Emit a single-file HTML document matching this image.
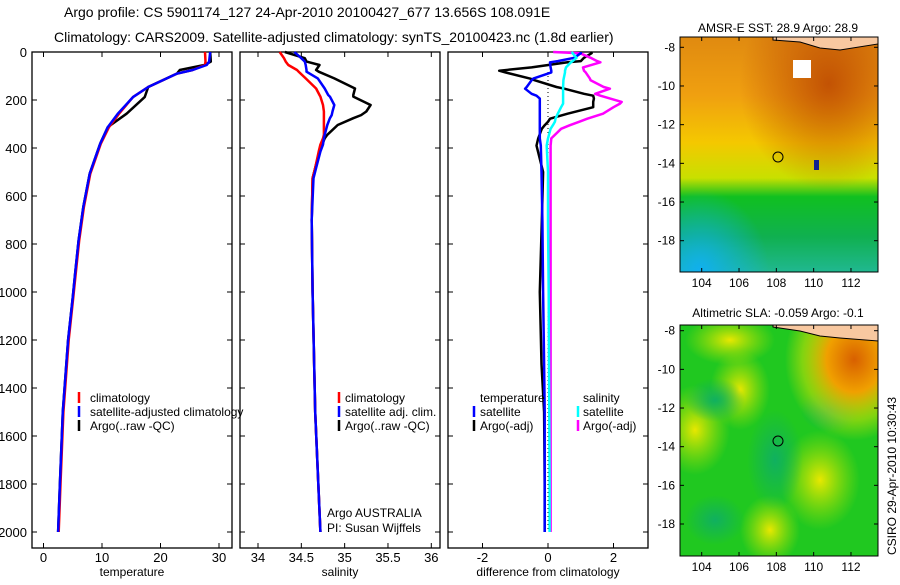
<!DOCTYPE html>
<html><head><meta charset="utf-8"><style>
body{margin:0;background:#fff;}
svg text{font-family:"Liberation Sans",sans-serif;font-size:12px;fill:#000;}
svg text.big{font-size:14px;}
svg text.ax{font-size:13px;}
</style></head><body>
<svg id="fig" width="900" height="580" xmlns="http://www.w3.org/2000/svg">
<defs>
<linearGradient id="sstv" x1="0" y1="0" x2="0" y2="1">
<stop offset="0" stop-color="#e08a10"/><stop offset="0.25" stop-color="#f0a010"/><stop offset="0.45" stop-color="#f4c800"/><stop offset="0.6" stop-color="#c8e000"/><stop offset="0.68" stop-color="#10c020"/><stop offset="0.85" stop-color="#10b050"/><stop offset="1" stop-color="#20b890"/>
</linearGradient>
<radialGradient id="sstbrown" cx="0.75" cy="0.2" r="0.45"><stop offset="0" stop-color="#b84000" stop-opacity="0.8"/><stop offset="1" stop-color="#b84000" stop-opacity="0"/></radialGradient>
<radialGradient id="sstcyan" cx="0.1" cy="1" r="0.35"><stop offset="0" stop-color="#10b0f0"/><stop offset="1" stop-color="#10b0f0" stop-opacity="0"/></radialGradient>
<radialGradient id="slaor" cx="0.88" cy="0.15" r="0.35"><stop offset="0" stop-color="#d86000"/><stop offset="0.4" stop-color="#f0a000" /><stop offset="0.75" stop-color="#e0e000" stop-opacity="0.5"/><stop offset="1" stop-color="#e0e000" stop-opacity="0"/></radialGradient>
<radialGradient id="slay" cx="0.5" cy="0.5" r="0.5"><stop offset="0" stop-color="#e8e800"/><stop offset="1" stop-color="#b0e000" stop-opacity="0"/></radialGradient>
<radialGradient id="slag" cx="0.5" cy="0.5" r="0.5"><stop offset="0" stop-color="#10b060"/><stop offset="1" stop-color="#10b060" stop-opacity="0"/></radialGradient>
<clipPath id="clip2"><rect x="680" y="325" width="198" height="231"/></clipPath>
</defs>
<text class="big" x="64" y="17">Argo profile: CS 5901174_127 24-Apr-2010 20100427_677 13.656S 108.091E</text>
<text class="big" x="54" y="42">Climatology: CARS2009. Satellite-adjusted climatology: synTS_20100423.nc (1.8d earlier)</text>
<g id="plots"></g>
<g>
<text x="778" y="32" text-anchor="middle">AMSR-E SST: 28.9 Argo: 28.9</text>
<rect x="680" y="37" width="198" height="235" fill="url(#sstv)"/>
<rect x="680" y="37" width="198" height="235" fill="url(#sstbrown)"/>
<rect x="680" y="37" width="198" height="235" fill="url(#sstcyan)"/>
<rect x="793" y="60" width="18" height="18" fill="#fff"/>
<rect x="814" y="160" width="5" height="10" fill="#102090"/>
<path d="M773,40 L800,42 L820,48 L840,50 L878,44 L878,37 L773,37Z" fill="#f8c8a0" stroke="#000" stroke-width="1"/>
<circle cx="778" cy="157" r="5" fill="none" stroke="#000"/>
<rect x="680" y="37" width="198" height="235" fill="none" stroke="#000"/>
</g>
<g>
<text x="778" y="317" text-anchor="middle">Altimetric SLA: -0.059 Argo: -0.1</text>
<g clip-path="url(#clip2)">
<rect x="680" y="325" width="198" height="231" fill="#20c820"/>
<ellipse cx="695" cy="430" rx="35" ry="45" fill="url(#slay)"/>
<ellipse cx="820" cy="480" rx="40" ry="50" fill="url(#slay)"/>
<ellipse cx="770" cy="530" rx="30" ry="35" fill="url(#slay)"/>
<ellipse cx="730" cy="340" rx="45" ry="25" fill="url(#slay)"/>
<ellipse cx="740" cy="390" rx="30" ry="40" fill="url(#slay)"/>
<ellipse cx="775" cy="460" rx="28" ry="50" fill="url(#slag)"/>
<ellipse cx="830" cy="410" rx="30" ry="22" fill="url(#slag)"/>
<ellipse cx="715" cy="400" rx="30" ry="22" fill="url(#slag)"/>
<ellipse cx="715" cy="520" rx="30" ry="25" fill="url(#slag)"/>
<rect x="680" y="325" width="198" height="231" fill="url(#slaor)"/>
</g>
<path d="M773,327 L800,331 L820,336 L840,338 L878,341 L878,325 L773,325Z" fill="#f8c8a0" stroke="#000" stroke-width="1"/>
<circle cx="778" cy="441" r="5" fill="none" stroke="#000"/>
<rect x="680" y="325" width="198" height="231" fill="none" stroke="#000"/>
</g>
<text transform="translate(896,555) rotate(-90)">CSIRO 29-Apr-2010 10:30:43</text>
<g id="maps"></g>
</svg>
<script>
// ---- data ----
const depthT=[0,40,54,75,90,146,188,257,313,382,507,646,785,924,1021,1200,1500,1800,2000];
const tempClim=[27.6,27.7,27.6,25.5,22.8,17.9,15.3,12.9,11.2,9.8,8.0,6.9,6.1,5.5,5.1,4.3,3.4,2.9,2.6];
const tempSat=[28.5,28.3,27.9,25.5,22.8,17.9,15.3,12.7,11.0,9.7,7.9,6.8,6.0,5.4,5.0,4.2,3.3,2.8,2.5];
const tempArgo=[28.5,28.6,27.5,23.3,22.8,17.9,17.3,14.2,11.0,9.7,7.9,6.8,6.0,5.4,5.0,4.2,3.3,2.8,2.5];
const depthS=[0,26,40,54,75,82,110,152,179,186,221,248,263,276,304,345,360,386,415,483,526,700,1000,1500,2000];
const salClim=[34.25,34.3,34.32,34.35,34.45,34.47,34.55,34.67,34.71,34.72,34.75,34.76,34.76,34.76,34.76,34.76,34.75,34.72,34.7,34.66,34.63,34.62,34.63,34.66,34.72];
const salSat=[34.42,34.5,34.54,34.55,34.56,34.56,34.69,34.77,34.81,34.83,34.88,34.86,34.85,34.83,34.8,34.77,34.76,34.75,34.72,34.67,34.64,34.62,34.63,34.66,34.72];
const salArgo=[34.31,34.54,34.56,34.71,34.67,34.7,34.88,35.12,35.1,35.1,35.3,35.25,35.19,35.1,34.92,34.8,34.77,34.74,34.71,34.66,34.63,34.62,34.63,34.66,34.72];
const depthD=[0,5,24,38,43,64,78,85,111,118,146,153,174,182,194,208,215,230,257,278,291,305,320,360,390,500,708,1000,1300,1500,1800,2000];
const dTsat=[1.0,1.0,0.8,0.3,0.06,0.08,0.1,0.1,-0.45,-0.5,-0.65,-0.7,-0.5,-0.35,-0.25,-0.25,-0.25,-0.25,-0.25,-0.25,-0.25,-0.25,-0.25,-0.25,-0.22,-0.2,-0.17,-0.15,-0.12,-0.1,-0.1,-0.1];
const dTargo=[1.3,1.33,1.1,1.0,0.6,-0.5,-1.49,-1.3,-0.55,-0.4,0.26,0.5,1.1,1.38,1.4,1.38,1.38,1.38,0.6,0.06,0.0,-0.1,-0.19,-0.3,-0.35,-0.15,-0.19,-0.25,-0.2,-0.12,-0.1,-0.1];
const dSsat=[0.72,0.75,0.87,0.75,0.7,0.55,0.52,0.52,0.48,0.47,0.46,0.46,0.46,0.46,0.46,0.46,0.46,0.4,0.3,0.23,0.21,0.15,0.08,0.0,-0.04,0.0,0.0,0.02,0.03,0.04,0.05,0.05];
const dSargo=[0.16,0.98,1.3,1.5,1.6,1.07,1.1,1.15,1.28,1.3,1.7,1.89,1.44,1.6,1.9,2.25,2.2,2.0,1.68,1.2,0.95,0.67,0.4,0.1,0.08,0.08,0.08,0.08,0.08,0.08,0.08,0.08];
const depthTicks=[0,200,400,600,800,1000,1200,1400,1600,1800,2000];
const tempTicks=[0,10,20,30];
const salTicks=[34,34.5,35,35.5,36];
const diffTicks=[-2,0,2];

const NS='http://www.w3.org/2000/svg';
const g=document.getElementById('plots');
function mk(t,a,p){const e=document.createElementNS(NS,t);for(const k in a)e.setAttribute(k,a[k]);(p||g).appendChild(e);return e;}
const Y=d=>52+d*0.24;
const frameTop=52, frameBot=548;
function panel(x0,x1,lo,hi,px0,px1,ticks,label,nm){
  const X=v=>px0+(v-lo)*(px1-px0)/(hi-lo);
  const f=mk('rect',{x:x0,y:frameTop,width:x1-x0,height:frameBot-frameTop,fill:'none',stroke:'#000','stroke-width':1.3});
  
  
  ticks.forEach(t=>{const x=X(t);mk('line',{x1:x,x2:x,y1:frameBot,y2:frameBot-5,stroke:'#000'});mk('line',{x1:x,x2:x,y1:frameTop,y2:frameTop+5,stroke:'#000'});
    const tx=mk('text',{x:x,y:frameBot+14,'text-anchor':'middle','class':'ax'});tx.textContent=String(t);
    
    });
  depthTicks.forEach(d=>{mk('line',{x1:x0,x2:x0+5,y1:Y(d),y2:Y(d),stroke:'#000'});mk('line',{x1:x1,x2:x1-5,y1:Y(d),y2:Y(d),stroke:'#000'});});
  const l=mk('text',{x:(x0+x1)/2,y:frameBot+28,'text-anchor':'middle'});l.textContent=label;
  
  
  return X;
}
function line(X,ds,vs,col,nm,w){
  const p=mk('polyline',{points:ds.map((d,i)=>X(vs[i]).toFixed(1)+','+Y(d).toFixed(1)).join(' '),fill:'none',stroke:col,'stroke-width':w||2.5,'stroke-linejoin':'round'});
  
  
}
function txt(x,y,s,nm){const t=mk('text',{x:x,y:y});t.textContent=s;
  
  }
function leg(x,y,col){mk('line',{x1:x,x2:x,y1:y-10,y2:y+1,stroke:col,'stroke-width':2.5});}
depthTicks.forEach(d=>{const t=mk('text',{x:27,y:Y(d)+5,'text-anchor':'end','class':'ax'});t.textContent=d;
  
  });
const XT=panel(32,232,0,30,43.5,219,tempTicks,'temperature','temperature');
line(XT,depthT,tempArgo,'#000','temp-argo-line');
line(XT,depthT,tempClim,'#f00','temp-clim-line');
line(XT,depthT,tempSat,'#00f','temp-sat-line');
leg(79,402,'#f00');txt(90,402,'climatology','legend-climatology');
leg(79,416,'#00f');txt(90,416,'satellite-adjusted climatology','legend-satellite');
leg(79,430,'#000');txt(90,430,'Argo(..raw -QC)','legend-argo');
const XS=panel(240,440,34,36,258,431.3,salTicks,'salinity','salinity');
line(XS,depthS,salArgo,'#000','sal-argo-line');
line(XS,depthS,salClim,'#f00','sal-clim-line');
line(XS,depthS,salSat,'#00f','sal-sat-line');
leg(339,402,'#f00');txt(345,402,'climatology','legend-sal-climatology');
leg(339,416,'#00f');txt(345,416,'satellite adj. clim.','legend-sal-satellite');
leg(339,430,'#000');txt(345,430,'Argo(..raw -QC)','legend-sal-argo');
txt(327,517,'Argo AUSTRALIA','float-agency');
txt(327,532,'PI: Susan Wijffels','float-pi');
const XD=panel(448,648,-2,2,482.5,613.5,diffTicks,'difference from climatology','difference');
mk('line',{x1:XD(0),x2:XD(0),y1:frameTop+20,y2:Y(2000),stroke:'#000','stroke-dasharray':'1,3'});
line(XD,depthD,dTargo,'#000','diff-temp-argo-line');
line(XD,depthD,dSargo,'#f0f','diff-sal-argo-line');
line(XD,depthD,dTsat,'#00f','diff-temp-sat-line');
line(XD,depthD,dSsat,'#0ff','diff-sal-sat-line');
txt(480,402,'temperature','legend-temperature-header');
txt(583,402,'salinity','legend-salinity-header');
leg(474,416,'#00f');txt(480,416,'satellite','legend-diff-temp-sat');
leg(474,430,'#000');txt(480,430,'Argo(-adj)','legend-diff-temp-argo');
leg(578,416,'#0ff');txt(583,416,'satellite','legend-diff-sal-sat');
leg(578,430,'#f0f');txt(583,430,'Argo(-adj)','legend-diff-sal-argo');
const mg=document.getElementById('maps');
const lonTicks=[104,106,108,110,112];
const latTicks=[-8,-10,-12,-14,-16,-18];
function mapAxes(y0,y1,lat8,lat18){
  lonTicks.forEach(l=>{const x=701.7+(l-104)*18.66;
    mk('line',{x1:x,x2:x,y1:y1,y2:y1-4,stroke:'#000'},mg);mk('line',{x1:x,x2:x,y1:y0,y2:y0+4,stroke:'#000'},mg);
    const t=mk('text',{x:x,y:y1+15,'text-anchor':'middle'},mg);t.textContent=l;
    
    });
  latTicks.forEach(l=>{const y=lat8+(-8-l)*(lat18-lat8)/10;
    mk('line',{x1:680,x2:684,y1:y,y2:y,stroke:'#000'},mg);mk('line',{x1:878,x2:874,y1:y,y2:y,stroke:'#000'},mg);
    const t=mk('text',{x:675,y:y+4,'text-anchor':'end'},mg);t.textContent=l;
    
    });
}
mapAxes(37,272,47.3,240.7);
mapAxes(325,556,330.7,524);
</script>
</body></html>
